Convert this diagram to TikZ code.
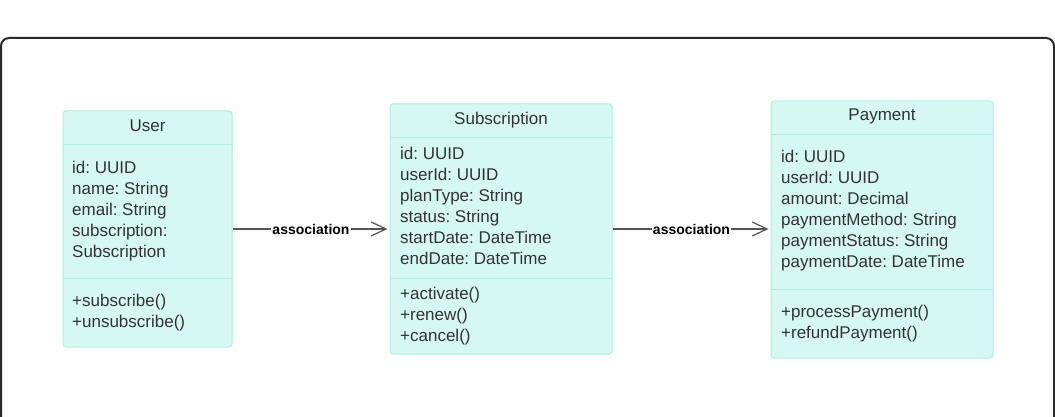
\documentclass[tikz,border=0pt]{standalone}
\usepackage{fontspec}
\setmainfont{Liberation Sans}
\usetikzlibrary{arrows.meta}
\frenchspacing
\definecolor{boxfill}{HTML}{D6F8F3}
\definecolor{boxline}{HTML}{AEEEE5}
\definecolor{txt}{HTML}{333333}
\definecolor{conn}{HTML}{555555}
\definecolor{frame}{HTML}{2A2A2A}
\tikzset{
  classbox/.style={draw=boxline, fill=boxfill, line width=1pt, rounded corners=3pt, inner sep=0pt},
  divider/.style={draw=boxline, line width=1pt},
  title/.style={anchor=base, inner sep=0pt, text=txt, font=\fontsize{17}{21}\selectfont},
  members/.style={anchor=north west, inner sep=0pt, align=left, text=txt, font=\fontsize{17}{21}\selectfont\frenchspacing},
  assoc/.style={draw=conn, line width=1.2pt, -{Straight Barb[length=15pt,width=14pt,line width=1.2pt]}, shorten >=2pt},
  assoclabel/.style={fill=white, inner sep=1pt, text=black, font=\fontsize{14}{16}\selectfont\bfseries}
}
\begin{document}
\begin{tikzpicture}[x=1pt,y=-1pt]
\useasboundingbox (0,0) rectangle (1055,417);
\fill[white] (0,0) rectangle (1055,417);
% outer frame
\draw[frame, line width=2pt, rounded corners=8pt] (1,440) -- (1,38) -- (1054,38) -- (1054,440);

% User
\node[classbox, minimum width=169pt, minimum height=236pt] (user) at (147.5,229) {};
\draw[divider] (63,145) -- (232,145);
\draw[divider] (63,278) -- (232,278);
\node[title] (usert) at (147.5,132) {User};
\node[members] (usera) at (72,158.3) {\strut id: UUID\\name: String\\email: String\\subscription:\\Subscription};
\node[members] (userm) at (72,291.3) {\strut +subscribe()\\+unsubscribe()};

% Subscription
\node[classbox, minimum width=222pt, minimum height=250pt] (sub) at (501,229) {};
\draw[divider] (390,138) -- (612,138);
\draw[divider] (390,278) -- (612,278);
\node[title] (subt) at (501,125) {Subscription};
\node[members] (suba) at (400,144.3) {\strut id: UUID\\userId: UUID\\planType: String\\status: String\\startDate: DateTime\\endDate: DateTime};
\node[members] (subm) at (400,284.3) {\strut +activate()\\+renew()\\+cancel()};

% Payment
\node[classbox, minimum width=222pt, minimum height=257pt] (pay) at (882,229.5) {};
\draw[divider] (771,135) -- (993,135);
\draw[divider] (771,289) -- (993,289);
\node[title] (payt) at (882,121) {Payment};
\node[members] (paya) at (781,147.3) {\strut id: UUID\\userId: UUID\\amount: Decimal\\paymentMethod: String\\paymentStatus: String\\paymentDate: DateTime};
\node[members] (paym) at (781,302.3) {\strut +processPayment()\\+refundPayment()};

% associations
\draw[assoc] (user.east) -- node[assoclabel] {association} (sub.west);
\draw[assoc] (sub.east) -- node[assoclabel] {association} (sub.east -| pay.west);
\end{tikzpicture}
\end{document}
